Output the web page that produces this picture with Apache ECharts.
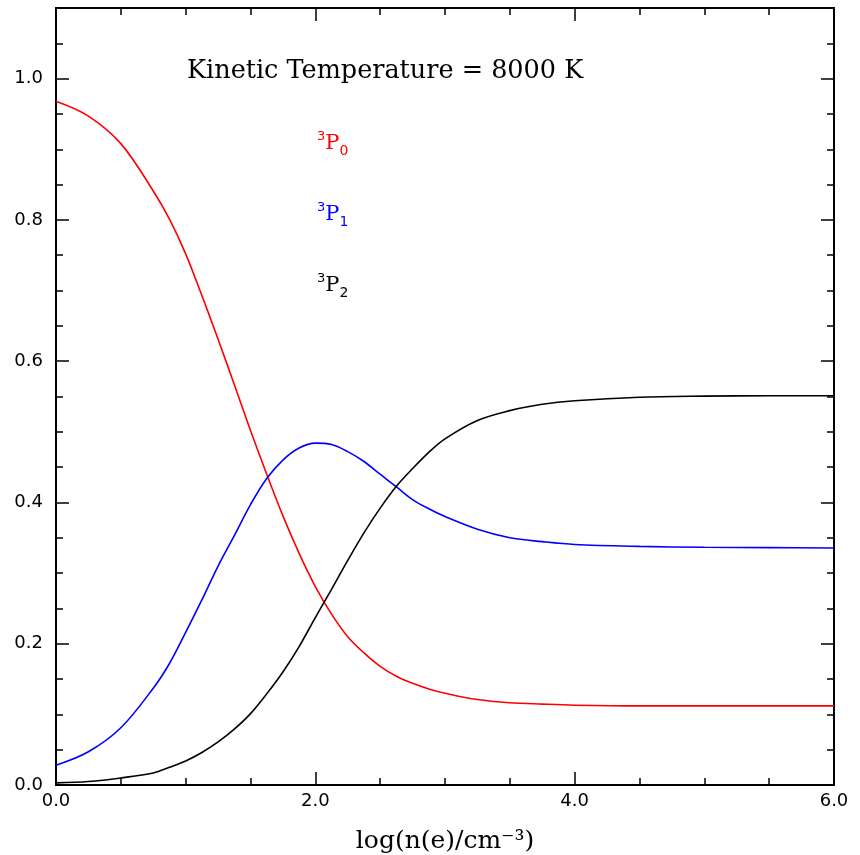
<!DOCTYPE html>
<html>
<head>
<meta charset="utf-8">
<script src="https://cdn.jsdelivr.net/npm/echarts@6/dist/echarts.min.js"></script>
<style>
    html, body { margin: 0; padding: 0; background: #fff; }
    #main { width: 860px; height: 855px; }
</style>
</head>
<body>
<div id="main"></div>
<script type="text/javascript">
    // log electron density, fractional level populations
    var logNe = [0, 0.25, 0.5, 0.75, 0.875, 1.0, 1.125, 1.25, 1.375, 1.5, 1.625, 1.75, 1.875, 2.0, 2.125, 2.25, 2.375, 2.5, 2.625, 2.75, 2.875, 3.0, 3.25, 3.5, 3.75, 4.0, 4.5, 5.0, 5.5, 6.0];
    var p0 = [0.968, 0.947, 0.908, 0.841, 0.801, 0.752, 0.693, 0.631, 0.567, 0.502, 0.440, 0.381, 0.328, 0.281, 0.242, 0.210, 0.187, 0.168, 0.154, 0.144, 0.136, 0.130, 0.121, 0.1165, 0.1145, 0.113, 0.112, 0.112, 0.112, 0.112];
    var p1 = [0.028, 0.047, 0.081, 0.137, 0.172, 0.216, 0.262, 0.310, 0.353, 0.397, 0.434, 0.460, 0.477, 0.484, 0.482, 0.472, 0.458, 0.440, 0.422, 0.404, 0.391, 0.380, 0.362, 0.350, 0.3445, 0.3405, 0.3378, 0.3365, 0.336, 0.3355];
    var p2 = [0.003, 0.005, 0.010, 0.017, 0.025, 0.034, 0.046, 0.061, 0.079, 0.101, 0.129, 0.160, 0.196, 0.237, 0.277, 0.318, 0.357, 0.392, 0.423, 0.448, 0.471, 0.490, 0.516, 0.530, 0.539, 0.544, 0.549, 0.5505, 0.551, 0.551];
    var levelNames = ['3P0', '3P1', '3P2'];
    var levelColors = ['#ff0000', '#0000ff', '#000000'];
    var yMajorTicks = ['0.0', '0.2', '0.4', '0.6', '0.8', '1.0'];
    var xMajorTicks = ['0.0', '2.0', '4.0', '6.0'];

    function pairs(ys) {
        return logNe.map(function (x, i) { return [x, ys[i]]; });
    }

    var frame = { show: true, onZero: false, lineStyle: { color: '#000', width: 2 } };
    var sansLabel = { fontFamily: 'DejaVu Sans', fontSize: 18, color: '#000' };

    function xAxis(pos, labels) {
        return {
            type: 'value', position: pos, min: 0, max: 6, interval: 2,
            axisLine: frame,
            axisTick: { show: true, inside: true, length: 13, lineStyle: { color: '#000', width: 1.5 } },
            minorTick: { show: true, splitNumber: 4, length: 7, lineStyle: { color: '#000', width: 1.5 } },
            splitLine: { show: false },
            axisLabel: labels ? Object.assign({ margin: 7, formatter: function (v) {
                var s = v.toFixed(1);
                return xMajorTicks.indexOf(s) >= 0 ? s : '';
            } }, sansLabel) : { show: false }
        };
    }

    function yAxis(pos, step, len, labels) {
        return {
            type: 'value', position: pos, min: 0, max: 1.1, interval: step,
            axisLine: frame,
            axisTick: { show: true, inside: true, length: len, lineStyle: { color: '#000', width: 1.5 } },
            splitLine: { show: false },
            axisLabel: labels ? Object.assign({ margin: 13, showMaxLabel: false, formatter: function (v) {
                var s = v.toFixed(1);
                return (yMajorTicks.indexOf(s) >= 0 && v < 1.05) ? s : '';
            } }, sansLabel) : { show: false }
        };
    }

    var xb = xAxis('bottom', true);
    xb.name = 'log(n(e)/cm⁻³)';
    xb.nameLocation = 'middle';
    xb.nameGap = 44;
    xb.nameTextStyle = { fontFamily: 'DejaVu Serif', fontSize: 25, color: '#000' };

    var myChart = echarts.init(document.getElementById('main'));
    option = {
        backgroundColor: '#fff',
        animation: false,
        grid: { left: 56, top: 8, right: 26, bottom: 70, containLabel: false, outerBoundsMode: 'none' },
        title: {
            text: 'Kinetic Temperature = 8000 K',
            left: 187, top: 58, padding: 0,
            textStyle: { fontFamily: 'DejaVu Serif', fontSize: 25.5, fontWeight: 'normal', color: '#000' }
        },
        legend: {
            orient: 'vertical', left: 312, top: 130, padding: 0,
            icon: 'none', itemWidth: 0, itemHeight: 14, itemGap: 43,
            selectedMode: false,
            data: levelNames.map(function (n, i) {
                return { name: n, textStyle: { color: levelColors[i] } };
            }),
            formatter: function (n) {
                return '{sup|' + n.charAt(0) + '}{p|' + n.charAt(1) + '}{sub|' + n.charAt(2) + '}';
            },
            textStyle: {
                fontFamily: 'DejaVu Serif',
                rich: {
                    sup: { fontSize: 13, fontFamily: 'DejaVu Sans', verticalAlign: 'top', lineHeight: 14 },
                    p: { fontSize: 21, fontFamily: 'DejaVu Serif', lineHeight: 28 },
                    sub: { fontSize: 14, fontFamily: 'DejaVu Sans', verticalAlign: 'bottom', lineHeight: 14 }
                }
            }
        },
        xAxis: [xb, xAxis('top', false)],
        yAxis: [
            yAxis('left', 0.2, 13, true),
            yAxis('right', 0.2, 13, false),
            yAxis('left', 0.05, 7, false),
            yAxis('right', 0.05, 7, false)
        ],
        series: [p0, p1, p2].map(function (ys, i) {
            return {
                name: levelNames[i],
                type: 'line',
                xAxisIndex: 0,
                yAxisIndex: 0,
                data: pairs(ys),
                showSymbol: false,
                smooth: 0.35,
                color: levelColors[i],
                lineStyle: { color: levelColors[i], width: 1.6 }
            };
        })
    };
    myChart.setOption(option);
</script>
</body>
</html>
